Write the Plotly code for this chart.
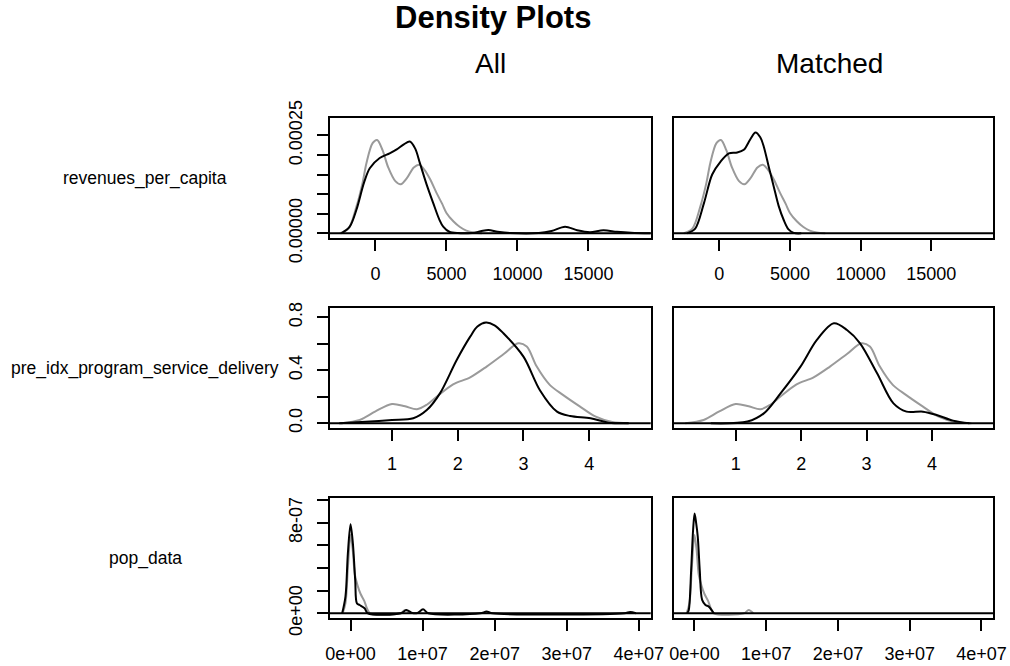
import plotly.graph_objects as go

FONT = "Liberation Sans, Arial, Helvetica, sans-serif"

# ---------------- data ----------------
variables = ["revenues_per_capita", "pre_idx_program_service_delivery", "pop_data"]
panel_titles = ["All", "Matched"]

# revenues_per_capita
rev_gray_x = [-2500, -1900, -1340, -900, -635, -200, 120, 500, 900, 1400, 1780, 2200, 2700, 3080, 3450,
              3850, 4300, 4700, 5000, 5500, 5950, 6400, 6900, 7500]
rev_gray_y = [0, 0.000012, 0.000068, 0.000130, 0.000179, 0.000230, 0.000238, 0.000212, 0.000168, 0.000133,
              0.000125, 0.000140, 0.000168, 0.000175, 0.000162, 0.000138, 0.000103, 0.000075, 0.000052,
              0.000030, 0.000016, 0.000007, 0.000002, 0]
rev_all_black_x = [-2400, -1810, -1340, -800, -400, 300, 1000, 1500, 2000, 2420, 2800, 3130, 3600, 4070,
                   4500, 4770, 5200, 5800, 6800, 7400, 7950, 8600, 9500, 11500, 12400, 13350, 14200,
                   15100, 16050, 17000, 18000, 19400]
rev_all_black_y = [0, 0.000017, 0.000060, 0.000130, 0.000166, 0.000192, 0.000204, 0.000214, 0.000227,
                   0.000234, 0.000216, 0.000179, 0.000125, 0.000077, 0.000035, 0.000017, 0.000004,
                   0.0000005, 0.000001, 0.000005, 0.0000085, 0.000004, 0.0000005, 0.0000005, 0.000006,
                   0.000017, 0.000008, 0.000003, 0.0000075, 0.000004, 0.0000015, 0.0000002]
rev_matched_black_x = [-2257, -1700, -1081, -500, 94, 682, 1270, 1739, 2200, 2562, 2900, 3150, 3500, 3855,
                       4200, 4560, 4900, 5266, 5800]
rev_matched_black_y = [0, 0.000012, 0.000077, 0.000150, 0.000183, 0.000204, 0.000206, 0.000213, 0.000240,
                       0.000257, 0.000245, 0.000221, 0.000170, 0.000119, 0.000070, 0.000034, 0.000010,
                       0.000001, 0]

# pre_idx_program_service_delivery
pre_gray_x = [0.23, 0.51, 0.75, 1.0, 1.2, 1.38, 1.53, 1.68, 1.93, 2.19, 2.44, 2.70, 2.92, 3.05, 3.2,
              3.4, 3.6, 3.85, 4.1, 4.35, 4.6]
pre_gray_y = [0, 0.025, 0.09, 0.146, 0.128, 0.106, 0.14, 0.20, 0.294, 0.347, 0.428, 0.523, 0.604, 0.58,
              0.43, 0.29, 0.215, 0.13, 0.05, 0.01, 0]
pre_all_black_x = [0.2, 0.665, 1.0, 1.325, 1.53, 1.73, 1.985, 2.19, 2.3, 2.43, 2.56, 2.695, 3.0, 3.25,
                   3.51, 3.71, 4.02, 4.29, 4.6]
pre_all_black_y = [0, 0.013, 0.025, 0.038, 0.10, 0.226, 0.478, 0.654, 0.73, 0.76, 0.74, 0.68, 0.503,
                   0.25, 0.088, 0.055, 0.038, 0.005, 0]
pre_matched_black_x = [0.62, 1.18, 1.43, 1.685, 1.99, 2.24, 2.5, 2.7, 2.9, 3.16, 3.41, 3.61, 3.86, 4.07,
                       4.32, 4.57]
pre_matched_black_y = [0, 0.013, 0.075, 0.226, 0.428, 0.63, 0.755, 0.704, 0.604, 0.377, 0.15, 0.088,
                       0.088, 0.063, 0.02, 0]

# pop_data
pop_gray_x = [-1.1e6, -7e5, -3.5e5, 0, 3e5, 6e5, 1.0e6, 1.4e6, 1.9e6, 2.3e6, 2.7e6, 6.9e6, 7.56e6, 8.2e6]
pop_gray_y = [0, 0.9e-7, 4.2e-7, 6.9e-7, 5.6e-7, 3.4e-7, 2.4e-7, 1.7e-7, 1.1e-7, 4e-8, 0, 0, 2.9e-8, 0]
pop_all_black_x = [-1.16e6, -7e5, -3.7e5, 0, 3.2e5, 6.5e5, 8.8e5, 1.25e6, 1.95e6, 2.4e6, 7.0e6, 7.74e6,
                   8.6e6, 9.3e6, 1.006e7, 1.08e7, 1.8e7, 1.887e7, 1.97e7, 3.8e7, 3.88e7, 3.96e7]
pop_all_black_y = [0, 1.5e-7, 5.3e-7, 7.85e-7, 6.2e-7, 2.9e-7, 8.8e-8, 7.3e-8, 4.4e-8, 0, 0, 2.9e-8,
                   0.2e-8, 0.3e-8, 3.5e-8, 0, 0, 1.5e-8, 0, 0, 1.2e-8, 0]
pop_matched_black_x = [-1.0e6, -7.9e5, -4.6e5, -1.9e5, 2e4, 2.3e5, 4.6e5, 7.4e5, 1.07e6, 1.53e6, 2.0e6,
                       2.7e6]
pop_matched_black_y = [0, 3e-8, 3.8e-7, 7.35e-7, 8.8e-7, 8.0e-7, 6.76e-7, 3.8e-7, 1.18e-7, 7.4e-8,
                       5.9e-8, 0]

# axis ticks
x_tickvals = [[0, 5000, 10000, 15000], [1, 2, 3, 4], [0, 1e7, 2e7, 3e7, 4e7]]
x_ticktext = [["0", "5000", "10000", "15000"], ["1", "2", "3", "4"],
              ["0e+00", "1e+07", "2e+07", "3e+07", "4e+07"]]
y_tickvals = [[0, 5e-5, 1e-4, 1.5e-4, 2e-4, 2.5e-4], [0, 0.2, 0.4, 0.6, 0.8],
              [0, 2e-7, 4e-7, 6e-7, 8e-7, 1e-6]]
y_ticktext = [["0.00000", "", "", "", "", "0.00025"], ["0.0", "", "0.4", "", "0.8"],
              ["0e+00", "", "", "", "8e-07", ""]]
x_ranges = [[-3200, 19380], [0.058, 4.935], [-2.85e6, 4.165e7]]
y_ranges = [[-1.12e-5, 2.934e-4], [-0.0332, 0.868], [-3.88e-8, 1.0146e-6]]

curves = [
    [(rev_gray_x, rev_gray_y, rev_all_black_x, rev_all_black_y),
     (rev_gray_x, rev_gray_y, rev_matched_black_x, rev_matched_black_y)],
    [(pre_gray_x, pre_gray_y, pre_all_black_x, pre_all_black_y),
     (pre_gray_x, pre_gray_y, pre_matched_black_x, pre_matched_black_y)],
    [(pop_gray_x, pop_gray_y, pop_all_black_x, pop_all_black_y),
     (pop_gray_x, pop_gray_y, pop_matched_black_x, pop_matched_black_y)],
]

# ---------------- layout geometry ----------------
W, H = 1010, 666
col_px = [(330, 650.7), (674, 993.3)]
row_px = [(118.3, 237.7), (308.3, 427.7), (498.3, 617.7)]

fig = go.Figure()
layout = dict(
    template="none",
    width=W, height=H, margin=dict(l=0, r=0, t=0, b=0, pad=0, autoexpand=False),
    paper_bgcolor="white", plot_bgcolor="white", showlegend=False,
    font=dict(family=FONT, color="black"),
)
shapes = []
annotations = []

k = 0
for r in range(3):
    for c in range(2):
        k += 1
        xs = "" if k == 1 else str(k)
        gx, gy, bx, by = curves[r][c]
        fig.add_trace(go.Scatter(x=gx, y=gy, mode="lines", xaxis="x" + xs, yaxis="y" + xs,
                                 line=dict(color="#9a9a9a", width=2, shape="spline", smoothing=0.9),
                                 hoverinfo="skip"))
        fig.add_trace(go.Scatter(x=bx, y=by, mode="lines", xaxis="x" + xs, yaxis="y" + xs,
                                 line=dict(color="black", width=2, shape="spline", smoothing=0.9),
                                 hoverinfo="skip"))
        x0, x1 = col_px[c]
        t, b = row_px[r]
        layout["xaxis" + xs] = dict(
            domain=[x0 / W, x1 / W], range=x_ranges[r], anchor="y" + xs, automargin=False,
            tickmode="array", tickvals=x_tickvals[r], ticktext=x_ticktext[r],
            ticks="outside", ticklen=11, tickwidth=2, tickcolor="black",
            showline=True, mirror=True, linewidth=2, linecolor="black",
            showgrid=False, zeroline=False, tickfont=dict(size=18, family=FONT, color="black"),
            ticklabelstandoff=8,
        )
        yax = dict(
            domain=[1 - b / H, 1 - t / H], range=y_ranges[r], anchor="x" + xs, automargin=False,
            showline=True, mirror=True, linewidth=2, linecolor="black",
            showgrid=False, zeroline=False,
        )
        if c == 0:
            yax.update(tickmode="array", tickvals=y_tickvals[r], ticktext=y_ticktext[r],
                       ticks="outside", ticklen=11, tickwidth=2, tickcolor="black",
                       tickangle=-90, tickfont=dict(size=18, family=FONT, color="black"),
                       ticklabelstandoff=8)
        else:
            yax.update(showticklabels=False, ticks="")
        layout["yaxis" + xs] = yax
        shapes.append(dict(type="line", xref="x" + xs + " domain", yref="y" + xs,
                           x0=0, x1=1, y0=0, y1=0, line=dict(color="black", width=2)))

# titles
annotations.append(dict(text="<b>Density Plots</b>", x=493 / W, y=1 - 18 / H, xref="paper", yref="paper",
                        showarrow=False, xanchor="center", yanchor="middle",
                        font=dict(size=31, family=FONT, color="black")))
for c, name in enumerate(panel_titles):
    cx = (col_px[c][0] + col_px[c][1]) / 2 - (0 if c == 0 else 4)
    annotations.append(dict(text=name, x=cx / W, y=1 - 63 / H, xref="paper", yref="paper",
                            showarrow=False, xanchor="center", yanchor="middle",
                            font=dict(size=28, family=FONT, color="black")))
for r, v in enumerate(variables):
    cy = (row_px[r][0] + row_px[r][1]) / 2
    annotations.append(dict(text=v, x=145 / W, y=1 - cy / H, xref="paper", yref="paper",
                            showarrow=False, xanchor="center", yanchor="middle",
                            font=dict(size=17.5, family=FONT, color="black")))

layout["shapes"] = shapes
layout["annotations"] = annotations
fig.update_layout(**layout)
fig.write_html("out.html")
